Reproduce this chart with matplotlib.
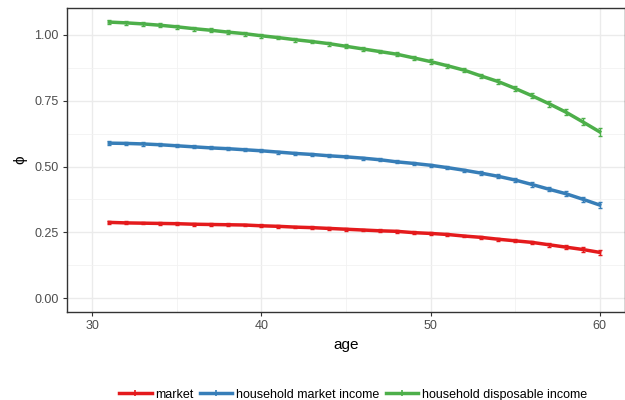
import matplotlib
matplotlib.use("Agg")
import matplotlib.pyplot as plt
from matplotlib.lines import Line2D

plt.rcParams['font.family'] = ['Liberation Sans', 'DejaVu Sans']

age = list(range(31, 61))

market = [0.288, 0.286, 0.285, 0.284, 0.283, 0.281, 0.280, 0.279, 0.278, 0.275,
          0.273, 0.270, 0.268, 0.265, 0.262, 0.259, 0.256, 0.254, 0.249, 0.246,
          0.242, 0.236, 0.231, 0.224, 0.218, 0.212, 0.203, 0.194, 0.185, 0.174]
hh_market = [0.589, 0.588, 0.586, 0.583, 0.579, 0.575, 0.571, 0.568, 0.564, 0.560,
             0.555, 0.550, 0.546, 0.541, 0.537, 0.532, 0.526, 0.518, 0.512, 0.505,
             0.496, 0.486, 0.475, 0.463, 0.449, 0.432, 0.414, 0.397, 0.376, 0.354]
hh_disp = [1.049, 1.046, 1.042, 1.037, 1.031, 1.024, 1.018, 1.011, 1.005, 0.997,
           0.990, 0.982, 0.975, 0.967, 0.957, 0.947, 0.937, 0.927, 0.913, 0.899,
           0.883, 0.866, 0.844, 0.823, 0.797, 0.769, 0.739, 0.707, 0.670, 0.632]

market_err = [0.006, 0.006, 0.005, 0.005, 0.005, 0.005, 0.005, 0.005, 0.005, 0.005,
              0.005, 0.005, 0.005, 0.005, 0.005, 0.005, 0.005, 0.005, 0.005, 0.005,
              0.005, 0.005, 0.006, 0.006, 0.006, 0.006, 0.007, 0.007, 0.008, 0.009]
hh_market_err = [0.007, 0.006, 0.006, 0.006, 0.006, 0.006, 0.006, 0.006, 0.006, 0.006,
                 0.006, 0.006, 0.006, 0.006, 0.006, 0.006, 0.006, 0.006, 0.006, 0.006,
                 0.006, 0.006, 0.007, 0.007, 0.007, 0.008, 0.008, 0.009, 0.010, 0.011]
hh_disp_err = [0.008, 0.007, 0.007, 0.007, 0.007, 0.007, 0.007, 0.007, 0.007, 0.007,
               0.007, 0.007, 0.007, 0.007, 0.007, 0.007, 0.007, 0.007, 0.008, 0.008,
               0.008, 0.008, 0.009, 0.009, 0.010, 0.010, 0.011, 0.012, 0.013, 0.016]

labels = ['market', 'household market income', 'household disposable income']
colors = ['#E41A1C', '#377EB8', '#4DAF4A']
series = [(market, market_err), (hh_market, hh_market_err), (hh_disp, hh_disp_err)]

fig = plt.figure(figsize=(6.25, 4.0), dpi=100)
ax = fig.add_axes([0.1072, 0.22, 0.8928, 0.76])

for (vals, err), c in zip(series, colors):
    ax.errorbar(age, vals, yerr=err, color=c, lw=2.5, elinewidth=1.0,
                capsize=1.5, capthick=1.0, zorder=3)

ax.set_xlim(28.5, 61.5)
ax.set_ylim(-0.0525, 1.1025)
ax.set_xticks([30, 40, 50, 60])
ax.set_xticks([35, 45, 55], minor=True)
ax.set_yticks([0, 0.25, 0.5, 0.75, 1.0])
ax.set_yticks([0.125, 0.375, 0.625, 0.875], minor=True)
ax.set_yticklabels(['0.00', '0.25', '0.50', '0.75', '1.00'])

ax.grid(True, which='major', color='#EBEBEB', lw=1.0, zorder=0)
ax.grid(True, which='minor', color='#F2F2F2', lw=0.6, zorder=0)
ax.set_axisbelow(True)

for s in ax.spines.values():
    s.set_color('#333333')
    s.set_linewidth(1.0)

ax.tick_params(which='major', length=3, width=0.8, color='#333333',
               labelsize=9, labelcolor='#4D4D4D', pad=3)
ax.tick_params(which='minor', length=0)

ax.set_xlabel('age', fontsize=11, labelpad=4)
ax.set_ylabel('ϕ', fontsize=11, labelpad=5)

handles = [Line2D([0], [0], color=c, lw=2.5, marker='|', markersize=5, mew=1.2)
           for c in colors]
fig.legend(handles, labels, loc='center', bbox_to_anchor=(0.565, 0.013),
           ncol=3, frameon=False, fontsize=9, handlelength=2.6,
           handletextpad=0.3, columnspacing=0.5)

fig.savefig('out.png', dpi=100)
